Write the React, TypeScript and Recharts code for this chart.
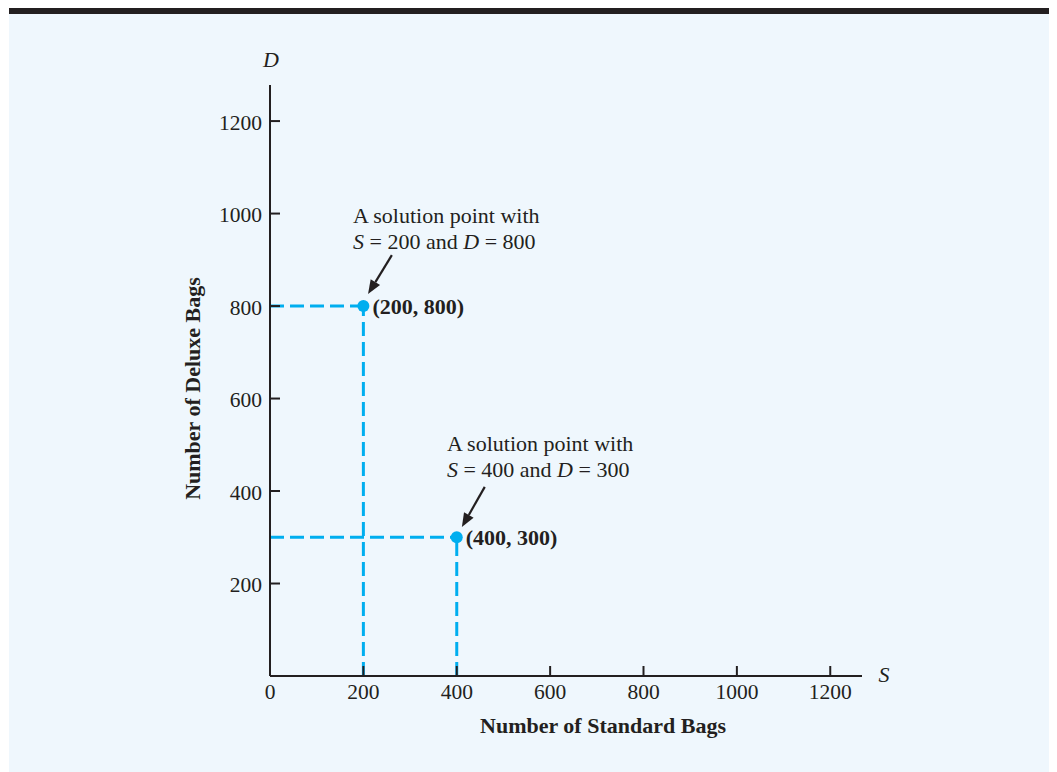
import { ScatterChart, Scatter, XAxis, YAxis, ReferenceLine } from 'recharts';

const ink = '#231F20';
const cyan = '#00AEEF';
const serif = '"Liberation Serif", "Times New Roman", serif';

const xTicks = [0, 200, 400, 600, 800, 1000, 1200];
const yTicks = [200, 400, 600, 800, 1000, 1200];

// the two solution points
const standardBags = [200, 400];
const deluxeBags = [800, 300];

// callout text: where the first line starts, and where each arrow runs
const noteS = [178, 379];
const noteD = [997, 504];
const arrowFromS = [261, 460];
const arrowFromD = [910, 409];
const arrowToS = [210, 411];
const arrowToD = [826, 322];

const points = standardBags.map((s, i) => ({ x: s, y: deluxeBags[i] }));
const notes = noteS.map((s, i) => ({ x: s, y: noteD[i], s: standardBags[i], d: deluxeBags[i] }));

function XTick(props: any) {
  const { x, y, payload } = props;
  return (
    <g>
      <line x1={x} x2={x} y1={y - 8} y2={y - 18} stroke={ink} strokeWidth={2} />
      <text x={x} y={y} dy="0.71em" textAnchor="middle" fontFamily={serif} fontSize={21.5} fill={ink}>
        {payload.value}
      </text>
    </g>
  );
}

function YTick(props: any) {
  const { x, y, payload } = props;
  return (
    <g>
      <line x1={x + 8} x2={x + 18} y1={y} y2={y} stroke={ink} strokeWidth={2} />
      <text x={x} y={y} dy="0.4em" textAnchor="end" fontFamily={serif} fontSize={21.5} fill={ink}>
        {payload.value}
      </text>
    </g>
  );
}

function XTitle(props: any) {
  const { x, y, width } = props.viewBox;
  return (
    <g fontFamily={serif} fill={ink}>
      <text x={x + 333} y={y + 57} textAnchor="middle" fontSize={22} fontWeight="bold">
        Number of Standard Bags
      </text>
      <text x={x + width + 22} y={y + 6} textAnchor="middle" fontSize={22} fontStyle="italic">
        S
      </text>
    </g>
  );
}

function YTitle(props: any) {
  const { x, y, width, height } = props.viewBox;
  const cy = y + height / 2 + 8;
  const tx = x - 18;
  return (
    <g fontFamily={serif} fill={ink}>
      <text
        x={tx}
        y={cy}
        textAnchor="middle"
        fontSize={22}
        fontWeight="bold"
        transform={`rotate(-90, ${tx}, ${cy})`}
        dy="0.35em"
      >
        Number of Deluxe Bags
      </text>
      <text x={x + width + 1} y={y - 18} textAnchor="middle" fontSize={22} fontStyle="italic">
        D
      </text>
    </g>
  );
}

function PointShape(props: any) {
  const { cx, cy, payload } = props;
  return (
    <g>
      <circle cx={cx} cy={cy} r={6} fill={cyan} />
      <text x={cx + 9} y={cy} dy="0.35em" fontFamily={serif} fontSize={22} fontWeight="bold" fill={ink}>
        ({payload.x}, {payload.y})
      </text>
    </g>
  );
}

function NoteShape(props: any) {
  const { cx, cy, payload } = props;
  return (
    <text x={cx} y={cy} fontFamily={serif} fontSize={22} fill={ink}>
      <tspan x={cx} dy="0.35em">A solution point with</tspan>
      <tspan x={cx} dy="1.22em" fontStyle="italic">S</tspan>
      <tspan>{` = ${payload.s} and `}</tspan>
      <tspan fontStyle="italic">D</tspan>
      <tspan>{` = ${payload.d}`}</tspan>
    </text>
  );
}

function Arrow(props: any) {
  const { x1, y1, x2, y2 } = props;
  const ang = Math.atan2(y2 - y1, x2 - x1);
  const len = 14;
  const half = 5.5;
  const bx = x2 - len * Math.cos(ang);
  const by = y2 - len * Math.sin(ang);
  const px = -Math.sin(ang) * half;
  const py = Math.cos(ang) * half;
  return (
    <g>
      <line x1={x1} y1={y1} x2={bx} y2={by} stroke={ink} strokeWidth={2.2} />
      <polygon points={`${x2},${y2} ${bx + px},${by + py} ${bx - px},${by - py}`} fill={ink} />
    </g>
  );
}

export default function App() {
  return (
    <div
      style={{
        width: 1048,
        height: 758,
        marginLeft: 1,
        background: '#EFF7FD',
        borderTop: `6px solid ${ink}`,
      }}
    >
      <ScatterChart width={1048} height={758} margin={{ top: 71, right: 195, bottom: 66, left: 201 }}>
        <XAxis
          type="number"
          dataKey="x"
          domain={[0, 1268]}
          ticks={xTicks}
          interval={0}
          height={30}
          tickSize={0}
          tickMargin={8}
          tick={<XTick />}
          axisLine={{ stroke: ink, strokeWidth: 2 }}
          label={{ content: XTitle }}
          allowDataOverflow
        />
        <YAxis
          type="number"
          dataKey="y"
          domain={[0, 1278]}
          ticks={yTicks}
          interval={0}
          width={60}
          tickSize={0}
          tickMargin={8}
          tick={<YTick />}
          axisLine={{ stroke: ink, strokeWidth: 2 }}
          label={{ content: YTitle }}
          allowDataOverflow
        />
        {points.map((p, i) => (
          <ReferenceLine
            key={`h${i}`}
            segment={[{ x: 0, y: p.y }, { x: p.x, y: p.y }]}
            stroke={cyan}
            strokeWidth={3}
            strokeDasharray="14 6"
            ifOverflow="visible"
          />
        ))}
        {points.map((p, i) => (
          <ReferenceLine
            key={`v${i}`}
            segment={[{ x: p.x, y: 0 }, { x: p.x, y: p.y }]}
            stroke={cyan}
            strokeWidth={3}
            strokeDasharray="14 6"
            ifOverflow="visible"
          />
        ))}
        {arrowFromS.map((s, i) => (
          <ReferenceLine
            key={`a${i}`}
            segment={[{ x: s, y: arrowFromD[i] }, { x: arrowToS[i], y: arrowToD[i] }]}
            shape={Arrow}
            ifOverflow="visible"
          />
        ))}
        <Scatter data={points} shape={PointShape} isAnimationActive={false} />
        <Scatter data={notes} shape={NoteShape} isAnimationActive={false} />
      </ScatterChart>
    </div>
  );
}
